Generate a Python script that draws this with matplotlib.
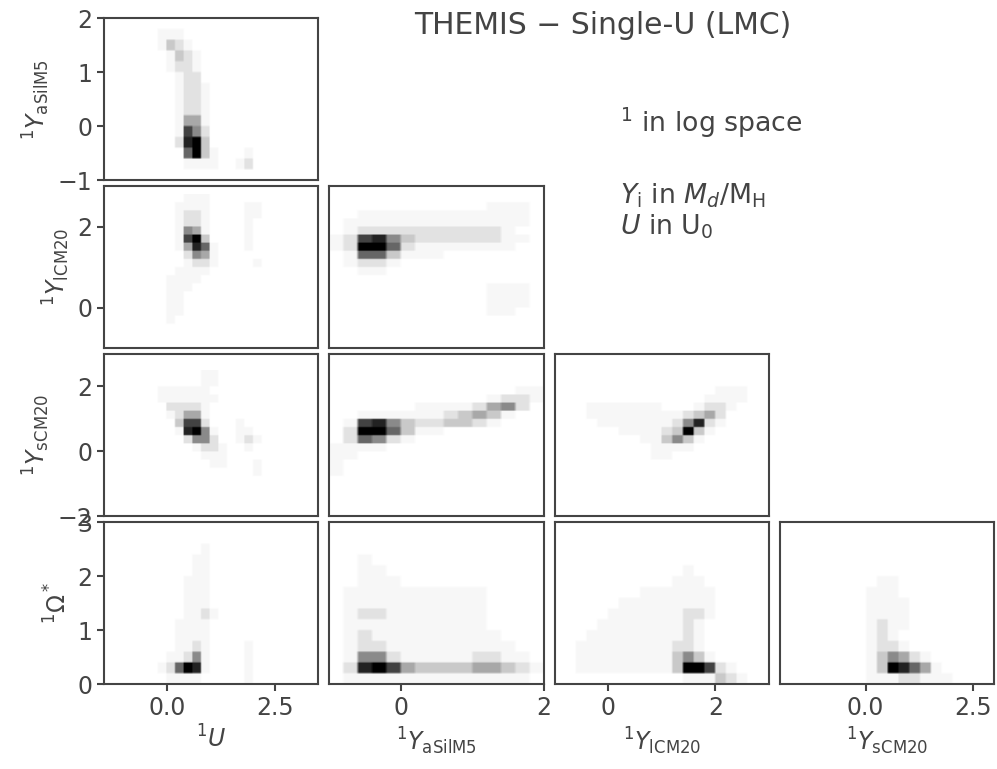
import numpy as np
import matplotlib
matplotlib.use('Agg')
import matplotlib.pyplot as plt

# axis variables (log space) and their ranges / ticks
var_labels = [r'$^1U$', r'$^1Y_{\rm aSilM5}$', r'$^1Y_{\rm lCM20}$',
              r'$^1Y_{\rm sCM20}$', r'$^1\Omega^*$']
var_lims = [(-1.45, 3.5), (-1.0, 2.0), (-1.0, 3.0), (-2.0, 3.0), (0.0, 3.0)]
xticks = [[0.0, 2.5], [0, 2], [0, 2], [0.0, 2.5]]
xticklabels = [['0.0', '2.5'], ['0', '2'], ['0', '2'], ['0.0', '2.5']]
yticks = [None, [-1, 0, 1, 2], [0, 2], [-2, 0, 2], [0, 1, 2, 3]]
yticklabels = [None, ['−1', '0', '1', '2'], ['0', '2'], ['−2', '0', '2'],
               ['0', '1', '2', '3']]

# histogram bin edges for each variable
u_edges = np.linspace(-0.4, 2.6, 16)
ya_edges = np.linspace(-1.0, 2.0, 16)
yl_edges = np.linspace(-0.8, 2.8, 19)
ys_edges = np.linspace(-1.0, 2.5, 15)
om_edges = np.linspace(0.0, 3.0, 16)
edges = [u_edges, ya_edges, yl_edges, ys_edges, om_edges]

# grey level (0-9) -> density shown
level_density = [0.0, 0.06, 0.2, 0.32, 0.44, 0.54, 0.67, 0.79, 0.88, 1.0]

# 2D histogram levels (0-9), rows listed from top (high y) to bottom
hist_u_ya = [
    "...............",
    ".111...........",
    ".1321..........",
    "..1321.........",
    "..1221.........",
    "...122.........",
    "...1221........",
    "...1221........",
    "...1221........",
    "...1441........",
    "...1752........",
    "...2893........",
    "....6931...1...",
    "....1111..12...",
    "...............",
]
hist_u_yl = [
    "....111........",
    "...1111....11..",
    "...1221....11..",
    "...1221....1...",
    "...1541....1...",
    "...1793....1...",
    "...14861...1...",
    "....2541.......",
    "....1221....1..",
    "...1111........",
    "..1111.........",
    "..111..........",
    "..11...........",
    "..11...........",
    "..11...........",
    "..1............",
    "...............",
    "...............",
]
hist_u_ys = [
    "......11.......",
    "......11.......",
    ".111111........",
    ".1111111.......",
    "..22221........",
    "..12441........",
    "...3772...1....",
    "...18951..11...",
    "....2552..121..",
    ".....1221..1...",
    "......111......",
    ".......11...1..",
    "............1..",
    "...............",
]
hist_u_om = [
    "...............",
    "...............",
    "......1........",
    ".....11........",
    ".....11........",
    "....111........",
    "....111........",
    "....111........",
    "....1121.......",
    "...1111........",
    "...1111........",
    "...1121....1...",
    "..11251....1...",
    ".126981....1...",
    "..1111.....1...",
]
hist_ya_yl = [
    "...............",
    "...........111.",
    "..111111111111.",
    ".1111111111111.",
    ".122222222221..",
    "12785322222211.",
    "1299621111111..",
    ".1663111.......",
    ".1221..........",
    "..11...........",
    "...............",
    "...........111.",
    "...........111.",
    "...........111.",
    "...........11..",
    "...............",
    "...............",
    "...............",
]
hist_ya_ys = [
    "...............",
    "...............",
    ".............11",
    "...........1221",
    "......11112452.",
    "..11111123431..",
    ".17853223321...",
    ".2996311.......",
    ".26521.........",
    "1111...........",
    "11.............",
    "1..............",
    "1..............",
    "...............",
]
hist_ya_om = [
    "...............",
    "...............",
    "...............",
    "..1............",
    "..11...........",
    "..111..........",
    ".1111111111....",
    ".1111111111....",
    ".1221111111....",
    ".1111111111....",
    ".12111111111...",
    ".122111111111..",
    ".1552111112211.",
    ".28974333344321",
    ".1111111111111.",
]
hist_yl_ys = [
    "..................",
    "..................",
    "..............111.",
    ".............1111.",
    "..1111111...1221..",
    "..1111111112342...",
    "...111111125821...",
    ".....111123931....",
    ".......113531.....",
    "........1111......",
    "........11........",
    "..................",
    "..................",
    "..................",
]
hist_yl_om = [
    "..................",
    "..................",
    "..................",
    "..................",
    "...........1......",
    "..........111.....",
    ".......1111111....",
    ".....111111111....",
    "....1111111221....",
    "...1111111121.....",
    "..11111111121.....",
    ".111111111221.....",
    ".1111111113531....",
    ".111111111399721..",
    "...........111321.",
]
hist_ys_om = [
    "..............",
    "..............",
    "..............",
    "..............",
    "..............",
    ".....11.......",
    "....111.......",
    "....1111......",
    "....1111......",
    "....1211......",
    "....121.......",
    "....1221......",
    "....135421....",
    "....1398641...",
    "....11122111..",
]

# (row variable, column variable) -> histogram
panels = {
    (1, 0): hist_u_ya, (2, 0): hist_u_yl, (3, 0): hist_u_ys, (4, 0): hist_u_om,
    (2, 1): hist_ya_yl, (3, 1): hist_ya_ys, (4, 1): hist_ya_om,
    (3, 2): hist_yl_ys, (4, 2): hist_yl_om,
    (4, 3): hist_ys_om,
}

ink = '#444444'


def to_grid(rows):
    g = [[0.0 if c == '.' else level_density[int(c)] for c in r] for r in rows]
    return np.array(g)


def main():
    plt.rcParams['font.family'] = 'DejaVu Sans'
    plt.rcParams['mathtext.fontset'] = 'dejavusans'
    fig, axes = plt.subplots(4, 4, figsize=(9.97, 7.69), dpi=100)
    fig.subplots_adjust(left=0.1043, right=0.9973, bottom=0.1105,
                        top=0.9765, wspace=0.051, hspace=0.037)

    for r in range(4):
        for c in range(4):
            ax = axes[r, c]
            if c > r:
                ax.axis('off')
                continue
            yv = r + 1
            xv = c
            grid = to_grid(panels[(yv, xv)])
            # blocky cells with slightly soft edges, like the original render
            img = np.kron(grid, np.ones((5, 5)))
            ex, ey = edges[xv], edges[yv]
            ax.imshow(img, cmap='Greys', vmin=0, vmax=1, origin='upper',
                      extent=(ex[0], ex[-1], ey[0], ey[-1]), aspect='auto',
                      interpolation='bilinear')
            ax.set_xlim(var_lims[xv])
            ax.set_ylim(var_lims[yv])
            for s in ax.spines.values():
                s.set_color(ink)
                s.set_linewidth(1.5)
            ax.tick_params(colors=ink, labelsize=17, length=5, width=1.5,
                           direction='out')
            if r == 3:
                ax.set_xticks(xticks[xv])
                ax.set_xticklabels(xticklabels[xv])
                ax.set_xlabel(var_labels[xv], fontsize=17, color=ink)
            else:
                ax.set_xticks([])
            if c == 0:
                ax.set_yticks(yticks[yv])
                ax.set_yticklabels(yticklabels[yv])
                ax.set_ylabel(var_labels[yv], fontsize=17, color=ink)
            else:
                ax.set_yticks([])

    fig.text(0.605, 0.967, 'THEMIS − Single-U (LMC)', ha='center',
             va='center', fontsize=21.5, color=ink)
    fig.text(0.622, 0.84, r'$^1$ in log space', ha='left', va='center',
             fontsize=19.3, color=ink)
    fig.text(0.622, 0.746, r'$Y_{\rm i}$ in $M_d$/M$_{\rm H}$', ha='left',
             va='center', fontsize=19.3, color=ink)
    fig.text(0.622, 0.705, r'$U$ in U$_0$', ha='left', va='center',
             fontsize=19.3, color=ink)

    fig.savefig('out.png', dpi=100)


if __name__ == '__main__':
    main()
